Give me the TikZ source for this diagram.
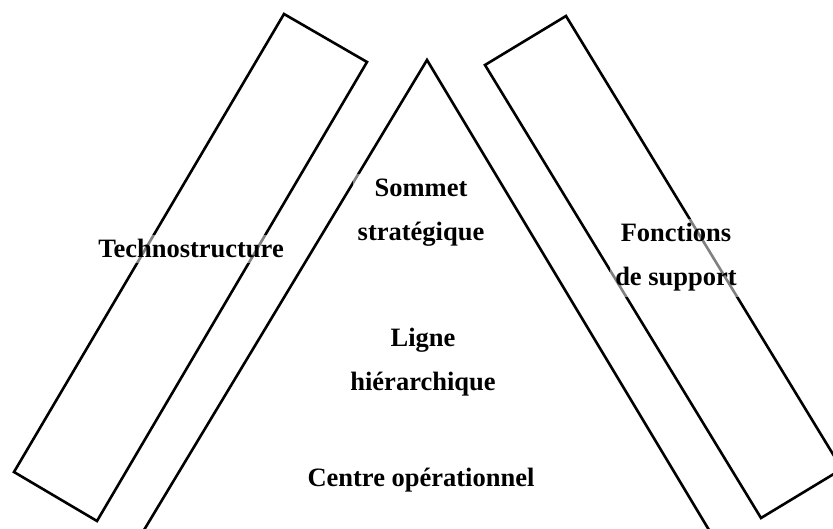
\documentclass[tikz,border=0pt]{standalone}
\usepackage{fontspec}
\setmainfont{Liberation Serif}
\usetikzlibrary{positioning}
\definecolor{CLine}{HTML}{000000}
\definecolor{CPaper}{HTML}{FFFFFF}

\tikzset{
    part/.style={draw=CLine, line width=2.6pt, line join=miter},
    partlabel/.style={font=\fontsize{26.5}{44}\selectfont\bfseries, align=center,
        fill=CPaper, fill opacity=0.5, text opacity=1, inner sep=5pt, anchor=base}
}

\begin{document}
\begin{tikzpicture}[x=1pt, y=-1pt]
    % Page / frame
    \fill[CPaper] (0, 0) rectangle (833, 529);
    \useasboundingbox (0, 0) rectangle (833, 529);
    \clip (0, 0) rectangle (833, 529);

    % Technostructure (left bar)
    \draw[part] (284, 14) -- (367, 62) -- (97, 521) -- (14, 472) -- cycle;

    % Fonctions de support (right bar)
    \draw[part] (566, 16) -- (842, 469) -- (761, 518) -- (485, 65) -- cycle;

    % Pyramid (open at the bottom)
    \draw[part] (141, 535) -- (427, 60) -- (712, 535);

    % Labels (base = last line)
    \node[partlabel] (techno) at (191, 258) {Technostructure};
    \node[partlabel] (sommet) at (421, 241) {Sommet\\strat\'egique};
    \node[partlabel] (ligne) at (423, 391) {Ligne\\hi\'erarchique};
    \node[partlabel] (centre) at (421, 486) {Centre op\'erationnel};
    \node[partlabel] (support) at (676, 286) {Fonctions\\de support};
\end{tikzpicture}
\end{document}
